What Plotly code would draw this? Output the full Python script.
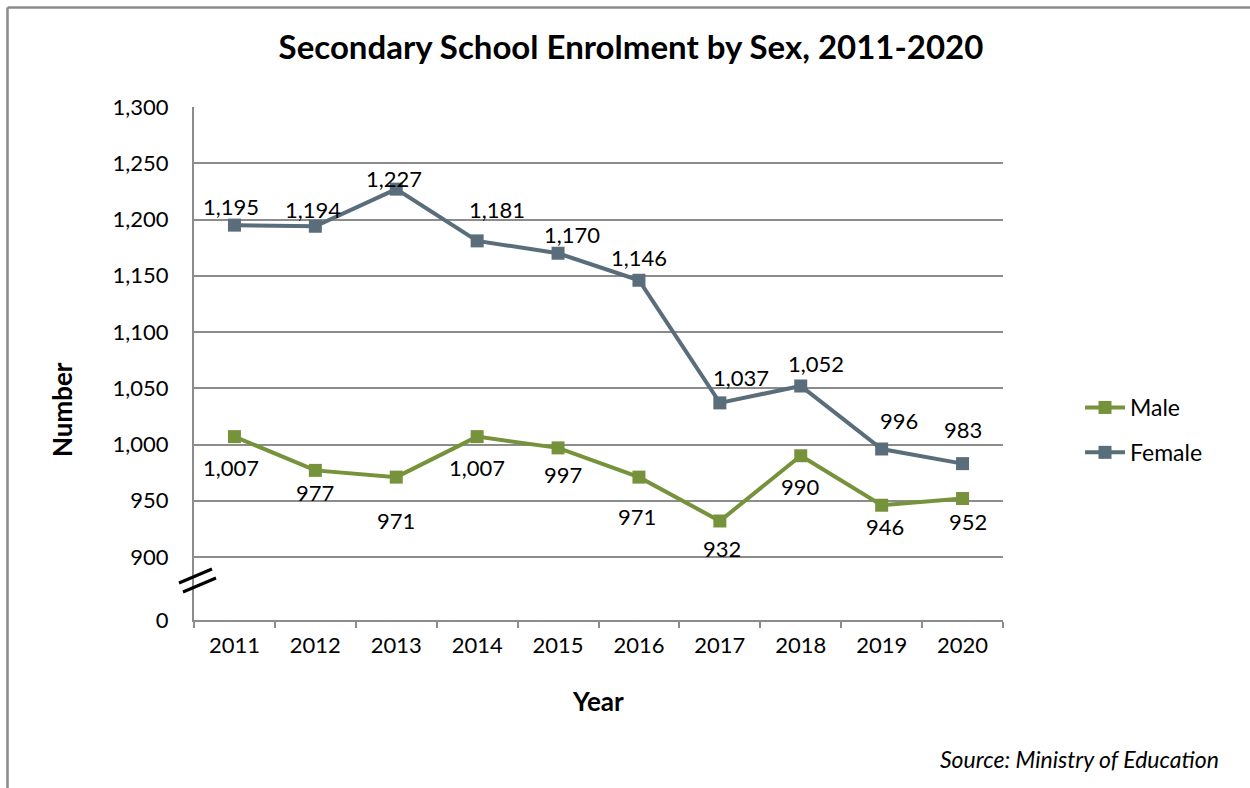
import plotly.graph_objects as go

years = ["2011", "2012", "2013", "2014", "2015", "2016", "2017", "2018", "2019", "2020"]
male = [1007, 977, 971, 1007, 997, 971, 932, 990, 946, 952]
female = [1195, 1194, 1227, 1181, 1170, 1146, 1037, 1052, 996, 983]
y_tick_vals = [844, 900, 950, 1000, 1050, 1100, 1150, 1200, 1250, 1300]
y_tick_text = ["0", "900", "950", "1,000", "1,050", "1,100", "1,150", "1,200", "1,250", "1,300"]

# label offsets (pixels) relative to each marker
female_dx = [-3, -2, -2, 20, 14, 0, 21, 15, 17, 0]
female_dy = [-19, -17, -11, -31, -19, -23, -25, -23, -29, -34]
male_dx = [-3, 0, 0, 0, 5, -2, 2, 0, 3, 5]
male_dy = [31, 22, 43, 31, 27, 39, 27, 31, 21, 23]

MALE_C = "#76933C"
FEMALE_C = "#5A6D7A"
GRID = "#8C8C8C"
FONT = "Lato"

W, H = 1250, 788
L, R, T, B = 194, 1003, 107, 620


def px_x(p):
    return (p - L) / (R - L)


def px_y(q):
    return (B - q) / (B - T)


fig = go.Figure()
fig.add_trace(go.Scatter(
    x=years, y=male, name="Male", mode="lines+markers",
    line=dict(color=MALE_C, width=4),
    marker=dict(symbol="square", size=13, color=MALE_C),
    legendgroup="m",
))
fig.add_trace(go.Scatter(
    x=years, y=female, name="Female", mode="lines+markers",
    line=dict(color=FEMALE_C, width=4),
    marker=dict(symbol="square", size=13, color=FEMALE_C),
    legendgroup="f",
))

LABEL_FONT = dict(family=FONT, size=22, color="black")
annotations = []
for i, (v, dx, dy) in enumerate(zip(female, female_dx, female_dy)):
    annotations.append(dict(x=i, y=v, xref="x", yref="y", text=f"{v:,}", showarrow=False,
                            xanchor="center", yanchor="middle",
                            xshift=dx, yshift=-dy, font=LABEL_FONT))
for i, (v, dx, dy) in enumerate(zip(male, male_dx, male_dy)):
    annotations.append(dict(x=i, y=v, xref="x", yref="y", text=f"{v:,}", showarrow=False,
                            xanchor="center", yanchor="middle",
                            xshift=dx, yshift=-dy, font=LABEL_FONT))

annotations.append(dict(x=px_x(62), y=px_y(410), xref="paper", yref="paper", text="<b>Number</b>",
                        xanchor="center", yanchor="middle",
                        textangle=-90, showarrow=False, font=dict(family=FONT, size=26, color="black")))
annotations.append(dict(x=px_x(598), y=px_y(701), xref="paper", yref="paper", text="<b>Year</b>",
                        xanchor="center", yanchor="middle",
                        showarrow=False, font=dict(family=FONT, size=26, color="black")))
annotations.append(dict(x=px_x(1221), y=px_y(759), xref="paper", yref="paper", xanchor="right",
                        yanchor="middle",
                        text="<i>Source: Ministry of Education</i>", showarrow=False,
                        font=dict(family=FONT, size=23, color="black")))

shapes = [
    # outer frame (left and top edges)
    dict(type="line", xref="paper", yref="paper", x0=px_x(7.5), y0=px_y(7.5), x1=px_x(1260), y1=px_y(7.5),
         line=dict(color="#8A8A8A", width=2.5)),
    dict(type="line", xref="paper", yref="paper", x0=px_x(7.5), y0=px_y(7.5), x1=px_x(7.5), y1=px_y(800),
         line=dict(color="#8A8A8A", width=2.5)),
    # axis break marks
    dict(type="line", xref="paper", yref="paper", x0=px_x(179), y0=px_y(583), x1=px_x(212), y1=px_y(569),
         line=dict(color="black", width=3)),
    dict(type="line", xref="paper", yref="paper", x0=px_x(183), y0=px_y(592), x1=px_x(216), y1=px_y(578),
         line=dict(color="black", width=3)),
]

fig.update_layout(
    width=W, height=H,
    margin=dict(l=L, r=W - R, t=T, b=H - B, autoexpand=False),
    paper_bgcolor="white", plot_bgcolor="white",
    font=dict(family=FONT, size=22, color="black"),
    title=dict(text="<b>Secondary School Enrolment by Sex, 2011-2020</b>",
               x=631 / W, xanchor="center", y=1 - 47 / H, yanchor="middle",
               xref="container", yref="container",
               font=dict(family=FONT, size=33, color="black")),
    xaxis=dict(type="category", range=[-0.5, 9.5], autorange=False, automargin=False,
               showline=True, linecolor=GRID, linewidth=2,
               ticks="outside", tickson="boundaries", ticklen=6, tickcolor=GRID, tickwidth=2,
               showgrid=False, tickfont=dict(size=22), ticklabelstandoff=5, tickangle=0),
    yaxis=dict(range=[844, 1300], autorange=False, automargin=False,
               tickvals=y_tick_vals, ticktext=y_tick_text,
               showline=True, linecolor=GRID, linewidth=2, showgrid=True, gridcolor=GRID,
               gridwidth=1.5, ticks="", zeroline=False, tickfont=dict(size=22),
               ticklabelstandoff=19),
    showlegend=True,
    legend=dict(x=px_x(1080), y=px_y(386), xanchor="left", yanchor="top",
                font=dict(size=23), tracegroupgap=12, bgcolor="rgba(0,0,0,0)",
                itemwidth=40),
    annotations=annotations,
    shapes=shapes,
)

fig.write_html("out.html", config={"displayModeBar": False},
               post_script="document.body.style.margin='0';document.body.style.padding='0';")
